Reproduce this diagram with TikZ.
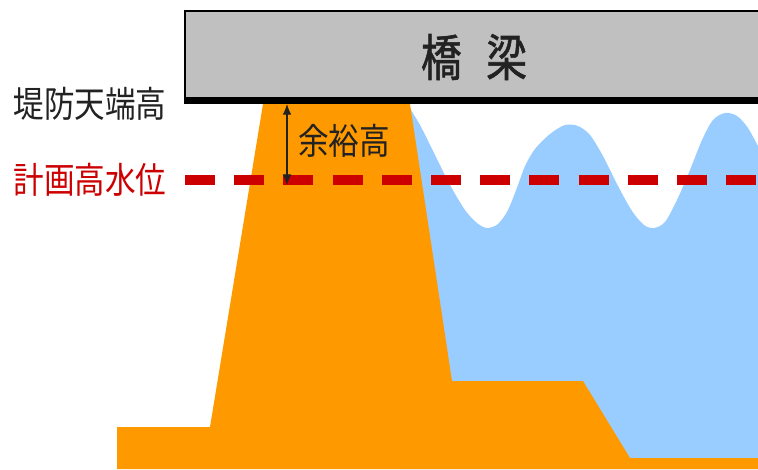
\documentclass[tikz,border=0pt]{standalone}
\usepackage{fontspec}
\newfontfamily\jpfont{Noto Sans CJK JP}
\newfontfamily\jpheavy[FakeBold=1.3]{Noto Sans CJK JP}
\usetikzlibrary{arrows.meta}

% colours of the section
\definecolor{levee}{HTML}{FF9900}
\definecolor{water}{HTML}{99CCFF}
\definecolor{girder}{HTML}{C0C0C0}
\definecolor{hwl}{HTML}{CC0000}
\definecolor{ink}{HTML}{222222}

\tikzset{
  label jp/.style={font=\jpfont\fontsize{27pt}{27pt}\selectfont, text=ink,
    inner sep=0pt, xscale=0.85, transform shape},
  hwl line/.style={draw=hwl, line width=7.5pt, dash pattern=on 22.5pt off 14.4pt},
  freeboard/.style={{Latex[length=8pt,width=6.5pt]}-{Latex[length=8pt,width=6.5pt]}, line width=0.8pt, ink}
}

\begin{document}
\begin{tikzpicture}[x=0.75pt,y=-0.75pt]
  \useasboundingbox (0,0) rectangle (758,469);
  \clip (0,0) rectangle (758,469);
  % water surface with waves
  \fill[water] (400,104) -- plot[smooth, tension=0.5] coordinates {(407,104) (420,125) (435,155) (450,185) (465,210)
      (477,223) (487,228) (498,224) (508,210) (518,185) (525,166) (535,149) (550,134) (565,125) (578,126)
      (590,135) (603,156) (618,186) (632,211) (644,225) (654,228) (665,222) (677,200) (690,170) (702,140)
      (713,120) (725,113) (737,116) (748,128) (760,150)}
    -- (760,469) -- (400,469) -- cycle;
  % levee body
  \fill[levee] (263,104) -- (410,104) -- (452,381) -- (583,381) -- (630,458) -- (760,458)
    -- (760,469) -- (117,469) -- (117,427) -- (210,427) -- cycle;
  % bridge girder
  \fill[girder] (185,11) rectangle (760,104);
  \draw[line width=1.5pt] (760,11) -- (185,11) -- (185,104);
  \fill[black] (185,97) rectangle (760,104);
  \node[label jp, font=\jpheavy\fontsize{37.5pt}{37.5pt}\selectfont, xscale=0.96] (bridge) at (474,57) {橋\hspace{0.6em}梁};
  % planned high water level
  \draw[hwl line] (185,180) -- (760,180);
  % freeboard arrow
  \coordinate (crest) at (287,104);
  \coordinate (hwlpt) at (287,185);
  \draw[freeboard] (crest) -- (hwlpt);
  \node[label jp] (crestlabel) at (90,104) {堤防天端高};
  \node[label jp, text=hwl] (hwllabel) at (90,180) {計画高水位};
  \node[label jp] (freeboardlabel) at (344,141) {余裕高};
\end{tikzpicture}
\end{document}
